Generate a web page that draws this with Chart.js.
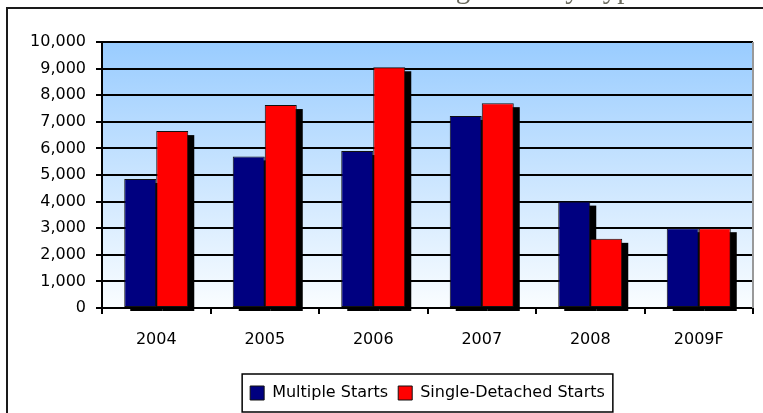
<!DOCTYPE html>
<html>
<head>
<meta charset="utf-8">
<title>Housing Starts by Type</title>
<script src="https://cdn.jsdelivr.net/npm/chart.js@4.4.1/dist/chart.umd.min.js"></script>
<style>
    html, body { margin: 0; padding: 0; background: #fff; overflow: hidden; }
    #wrap { position: relative; width: 763px; height: 413px; }
</style>
</head>
<body>
<div id="wrap"><canvas id="chart" width="763" height="413"></canvas></div>
<script>
const titleText = 'Housing Starts by Type';
const years = ['2004', '2005', '2006', '2007', '2008', '2009F'];
const multipleStarts = [4850, 5700, 5900, 7220, 4000, 3000];
const singleStarts = [6650, 7630, 9050, 7700, 2600, 3000];
const seriesNames = ['Multiple Starts', 'Single-Detached Starts'];
const seriesColors = ['#000080', '#ff0000'];

const axisFont = {family: 'DejaVu Sans', size: 16};

// background, outer frame and the clipped title above it
const framePlugin = {
    id: 'frame',
    beforeDraw(chart) {
        const ctx = chart.ctx;
        const area = chart.chartArea;
        ctx.save();
        let grad = ctx.createLinearGradient(0, area.top, 0, area.bottom);
        grad.addColorStop(0, '#99ccff');
        grad.addColorStop(1, '#fafdff');
        ctx.fillStyle = grad;
        ctx.fillRect(area.left, area.top, area.right - area.left, area.bottom - area.top);

        ctx.fillStyle = '#6b6b5f';
        ctx.font = '29px "Liberation Serif"';
        ctx.textBaseline = 'alphabetic';
        ctx.fillText(titleText, 372, -2);

        ctx.fillStyle = '#1a1a1a';
        ctx.fillRect(6, 7, 757, 2);
        ctx.fillRect(6, 7, 2, 406);
        ctx.restore();
    },
    beforeDatasetsDraw(chart) {
        const ctx = chart.ctx;
        ctx.save();
        ctx.fillStyle = '#000';
        chart.data.datasets.forEach((ds, i) => {
            chart.getDatasetMeta(i).data.forEach(bar => {
                let w = bar.width;
                ctx.fillRect(bar.x - w / 2 + 6, bar.y + 4, w, bar.base - bar.y);
            });
        });
        ctx.restore();
    },
    afterDraw(chart) {
        const ctx = chart.ctx;
        const area = chart.chartArea;
        ctx.save();
        ctx.fillStyle = '#999';
        ctx.fillRect(area.right - 1, area.top, 2, area.bottom - area.top);

        // box round the legend items
        let boxes = chart.legend.legendHitBoxes;
        if (boxes && boxes.length) {
            let left = Math.min(...boxes.map(b => b.left)) - 8;
            let right = Math.max(...boxes.map(b => b.left + b.width)) + 8;
            let top = chart.legend.top - 1;
            ctx.strokeStyle = '#000';
            ctx.lineWidth = 1.5;
            ctx.strokeRect(left, top, right - left, 38);
        }
        ctx.restore();
    }
};

new Chart(document.getElementById('chart'), {
    type: 'bar',
    data: {
        labels: years,
        datasets: [
            {
                label: seriesNames[0],
                data: multipleStarts,
                backgroundColor: seriesColors[0],
                borderColor: '#111',
                borderWidth: 1,
                borderSkipped: false
            },
            {
                label: seriesNames[1],
                data: singleStarts,
                backgroundColor: seriesColors[1],
                borderColor: '#111',
                borderWidth: 1,
                borderSkipped: false
            }
        ]
    },
    options: {
        responsive: false,
        animation: false,
        devicePixelRatio: 1,
        barPercentage: 1.0,
        categoryPercentage: 0.59,
        layout: {
            padding: {top: 42, right: 10, bottom: 2, left: 0}
        },
        plugins: {
            tooltip: {enabled: false},
            legend: {
                position: 'bottom',
                fullSize: false,
                labels: {
                    font: axisFont,
                    color: '#000',
                    boxWidth: 14,
                    boxHeight: 14,
                    padding: 10
                }
            }
        },
        scales: {
            x: {
                grid: {
                    display: true,
                    drawOnChartArea: false,
                    drawTicks: true,
                    tickLength: 6,
                    lineWidth: 2,
                    color: '#000',
                    offset: true
                },
                border: {display: true, color: '#000', width: 2},
                ticks: {font: axisFont, color: '#000', padding: 16, maxRotation: 0},
                afterFit(scale) {
                    scale.height = 67;
                }
            },
            y: {
                min: 0,
                max: 10000,
                ticks: {
                    stepSize: 1000,
                    font: axisFont,
                    color: '#000',
                    padding: 10,
                    callback: v => v.toLocaleString('en-US')
                },
                grid: {
                    color: '#000',
                    lineWidth: 2,
                    tickLength: 6,
                    drawTicks: true
                },
                border: {display: true, color: '#000', width: 2},
                afterFit(scale) {
                    scale.width = 102;
                }
            }
        }
    },
    plugins: [framePlugin]
});
</script>
</body>
</html>
